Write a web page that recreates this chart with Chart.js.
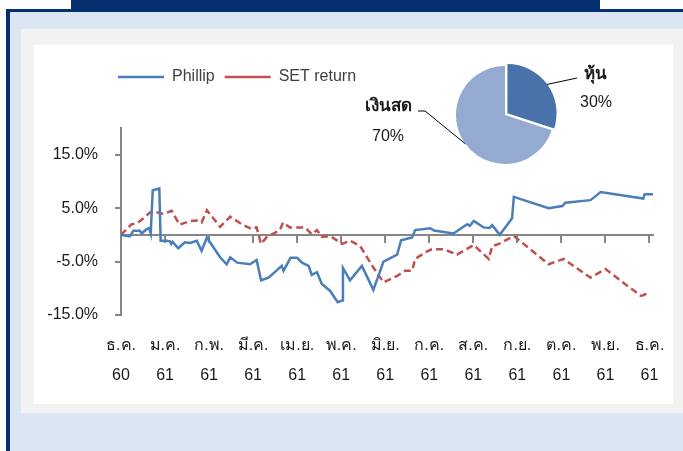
<!DOCTYPE html>
<html lang="th">
<head>
    <meta charset="UTF-8">
    <title>Phillip vs SET return</title>
    <script src="https://cdn.jsdelivr.net/npm/chart.js"></script>
    <style>
        body { margin: 0; background: #fff; width: 683px; height: 451px; overflow: hidden; position: relative; }
        .topbar { position: absolute; left: 71px; top: 0; width: 529px; height: 10px; background: #05306f; }
        .frame { position: absolute; left: 6px; top: 9px; width: 700px; height: 460px; background: #dce6f2;
                 border-left: 4px solid #05306f; border-top: 3px solid #05306f; }
        .panel { position: absolute; left: 21px; top: 29px; width: 670px; height: 384px; background: #f2f2f2; }
        .sheet { position: absolute; left: 34px; top: 45px; width: 639px; height: 359px; background: #fff; }
        #lineChart { position: absolute; left: 34px; top: 45px; }
        #pieChart { position: absolute; left: 350px; top: 55px; }
    </style>
</head>
<body>
    <div class="topbar"></div>
    <div class="frame"></div>
    <div class="panel"></div>
    <div class="sheet"></div>
    <canvas id="lineChart" width="639" height="359"></canvas>
    <canvas id="pieChart" width="290" height="115"></canvas>

    <script>
        // months since end of Dec 2560 (axis origin), cumulative return %
        const phillipMonths = [0, 0.2, 0.28, 0.43, 0.47, 0.58, 0.64, 0.675, 0.72, 0.87, 0.9, 1.04, 1.11, 1.14, 1.17,
            1.30, 1.45, 1.57, 1.72, 1.83, 1.95, 2.25, 2.40, 2.48, 2.64, 2.93, 3.08, 3.18, 3.35, 3.65, 3.69, 3.85,
            4.0, 4.11, 4.26, 4.33, 4.45, 4.56, 4.75, 4.92, 5.02, 5.04, 5.20, 5.47, 5.73, 5.96, 6.27, 6.36, 6.61,
            6.68, 7.02, 7.11, 7.40, 7.55, 7.86, 7.92, 8.01, 8.23, 8.37, 8.43, 8.60, 8.88, 8.92, 9.71, 10.02, 10.09,
            10.66, 10.77, 10.89, 11.86, 11.89, 12.08];
        const phillipReturns = [0, -0.3, 0.75, 0.75, 0.25, 1.06, 1.25, 0.25, 8.3, 8.7, -1.1, -1.1, -1.2, -1.7, -1.3,
            -2.5, -1.4, -1.5, -1.1, -3.0, -0.5, -4.2, -5.5, -4.2, -5.2, -5.5, -4.7, -8.5, -8.0, -5.8, -6.7, -4.3,
            -4.3, -5.2, -5.8, -7.5, -7.0, -9.2, -10.5, -12.6, -12.3, -6.2, -8.5, -5.8, -10.3, -5.0, -3.7, -1.0, -0.5,
            0.9, 1.25, 0.8, 0.45, 0.25, 2.0, 1.7, 2.6, 1.4, 1.3, 1.8, 0, 3.1, 7.1, 5.0, 5.4, 6.0,
            6.5, 7.2, 8.0, 6.8, 7.6, 7.6];

        const setMonths = [0, 0.24, 0.36, 0.51, 0.66, 0.85, 0.96, 1.15, 1.33, 1.57, 1.72, 1.83, 1.95, 2.25, 2.48,
            2.78, 2.97, 3.08, 3.18, 3.31, 3.61, 3.68, 3.83, 4.18, 4.33, 4.45, 4.56, 4.75, 5.02, 5.20, 5.43, 5.73,
            5.96, 6.27, 6.45, 6.61, 6.68, 6.95, 7.06, 7.33, 7.63, 8.01, 8.35, 8.43, 8.58, 8.92, 9.71, 10.05, 10.66,
            11.0, 11.80, 11.86, 11.98];
        const setReturns = [0, 2.0, 2.1, 3.1, 4.2, 4.2, 3.9, 4.5, 1.9, 2.6, 2.7, 2.3, 4.6, 1.5, 3.4,
            1.8, 1.1, 1.4, -1.7, -0.4, 0.9, 2.3, 1.4, 1.4, 0.1, 0.9, -0.4, -0.2, -1.7, -1.1, -2.1, -6.1,
            -8.9, -7.7, -6.7, -6.7, -4.5, -3.1, -2.7, -2.7, -3.7, -1.9, -4.5, -2.1, -1.7, -0.2, -5.5, -4.5, -8.0,
            -6.4, -11.4, -11.3, -10.8];

        const monthLabels = ['ธ.ค.', 'ม.ค.', 'ก.พ.', 'มี.ค.', 'เม.ย.', 'พ.ค.', 'มิ.ย.', 'ก.ค.', 'ส.ค.', 'ก.ย.', 'ต.ค.', 'พ.ย.', 'ธ.ค.'];
        const yearLabels = ['60', '61', '61', '61', '61', '61', '61', '61', '61', '61', '61', '61', '61'];
        const yTicks = [-15, -5, 5, 15];

        const allocLabels = ['หุ้น', 'เงินสด'];
        const allocValues = [30, 70];

        const FONT = "'Liberation Sans', Arial, sans-serif";
        const AXIS = '#868686';
        const monthTicks = monthLabels.map((_, i) => ({ value: i }));

        // legend sits above the plot, starting near the y axis
        const legendPlacer = {
            id: 'legendPlacer',
            beforeInit(chart) {
                const fit = chart.legend.fit;
                chart.legend.fit = function () {
                    fit.bind(chart.legend)();
                    this.height = 69;
                };
            },
            afterLayout(chart) {
                chart.legend.left = 74;
            }
        };

        const noPad = s => { s.paddingLeft = 0; s.paddingRight = 0; s.paddingTop = 0; s.paddingBottom = 0; };

        new Chart(document.getElementById('lineChart'), {
            type: 'line',
            data: {
                datasets: [{
                    label: 'Phillip',
                    data: phillipMonths.map((m, i) => ({ x: m, y: phillipReturns[i] })),
                    borderColor: '#4a7ebb',
                    borderWidth: 2.5,
                    pointRadius: 0,
                    tension: 0
                }, {
                    label: 'SET return',
                    data: setMonths.map((m, i) => ({ x: m, y: setReturns[i] })),
                    borderColor: '#c0504d',
                    borderWidth: 2.5,
                    borderDash: [7, 4],
                    pointRadius: 0,
                    tension: 0
                }]
            },
            options: {
                responsive: false,
                animation: false,
                events: [],
                layout: { padding: { left: 0, right: 20, top: 14, bottom: 0 } },
                plugins: {
                    tooltip: { enabled: false },
                    legend: {
                        position: 'top',
                        align: 'start',
                        labels: {
                            usePointStyle: true,
                            pointStyle: 'line',
                            pointStyleWidth: 46,
                            boxHeight: 3,
                            padding: 10,
                            color: '#404040',
                            font: { family: FONT, size: 16 }
                        }
                    }
                },
                scales: {
                    x: {
                        type: 'linear',
                        position: { y: 0 },
                        min: 0,
                        max: 12.08,
                        afterBuildTicks: s => { s.ticks = monthTicks.map(t => ({ ...t })); },
                        afterFit: noPad,
                        ticks: { display: false },
                        grid: { drawOnChartArea: false, color: AXIS, lineWidth: 2, tickLength: 7 },
                        border: { color: AXIS, width: 2 }
                    },
                    x2: {
                        type: 'linear',
                        position: 'bottom',
                        min: 0,
                        max: 12.08,
                        afterBuildTicks: s => { s.ticks = monthTicks.map(t => ({ ...t })); },
                        afterFit: s => { noPad(s); s.height = 89; },
                        grid: { display: false },
                        border: { display: false },
                        ticks: {
                            padding: 8,
                            maxRotation: 0,
                            autoSkip: false,
                            color: '#1a1a1a',
                            font: { family: FONT, size: 16, lineHeight: 1.875 },
                            callback: v => [monthLabels[v], yearLabels[v]]
                        }
                    },
                    y: {
                        min: -15,
                        max: 20,
                        afterBuildTicks: s => { s.ticks = yTicks.map(v => ({ value: v })); },
                        afterFit: s => { noPad(s); s.width = 87; },
                        grid: { drawOnChartArea: false, color: AXIS, lineWidth: 2, tickLength: 6 },
                        border: { color: AXIS, width: 2 },
                        ticks: {
                            padding: 17,
                            color: '#1a1a1a',
                            font: { family: FONT, size: 16 },
                            callback: v => v.toFixed(1) + '%'
                        }
                    }
                }
            },
            plugins: [legendPlacer]
        });

        // pie labels with leader lines, placed relative to each slice
        const pieLabels = {
            id: 'pieLabels',
            afterDatasetsDraw(chart) {
                const arcs = chart.getDatasetMeta(0).data;
                const ctx = chart.ctx;
                const total = allocValues.reduce((a, b) => a + b, 0);
                const spots = [
                    { line: [[72, -37]], name: [79, -41], value: [91, -12], align: 'left', push: 3 },
                    { line: [[-80, -4], [-87, -4]], name: [-117, -9], value: [-117, 22], align: 'center', push: 0 }
                ];
                ctx.save();
                arcs.forEach((arc, i) => {
                    const mid = (arc.startAngle + arc.endAngle) / 2;
                    const r = arc.outerRadius + spots[i].push;
                    const cx = arc.x, cy = arc.y;
                    ctx.beginPath();
                    ctx.strokeStyle = '#000';
                    ctx.lineWidth = 1;
                    ctx.moveTo(cx + Math.cos(mid) * r, cy + Math.sin(mid) * r);
                    spots[i].line.forEach(p => ctx.lineTo(cx + p[0], cy + p[1]));
                    ctx.stroke();

                    ctx.fillStyle = '#1a1a1a';
                    ctx.textBaseline = 'middle';
                    ctx.textAlign = spots[i].align;
                    ctx.font = 'bold 17px ' + FONT;
                    ctx.fillText(allocLabels[i], cx + spots[i].name[0], cy + spots[i].name[1]);
                    ctx.textAlign = 'center';
                    ctx.font = '16px ' + FONT;
                    ctx.fillText(Math.round(allocValues[i] / total * 100) + '%', cx + spots[i].value[0], cy + spots[i].value[1]);
                });
                ctx.restore();
            }
        };

        new Chart(document.getElementById('pieChart'), {
            type: 'pie',
            data: {
                labels: allocLabels,
                datasets: [{
                    data: allocValues,
                    backgroundColor: ['#4872a9', '#95aad1'],
                    borderWidth: 0,
                    offset: [12, 0],
                    radius: 49
                }]
            },
            options: {
                responsive: false,
                animation: false,
                events: [],
                layout: { padding: { left: 100, right: 80, top: 5, bottom: 0 } },
                plugins: { legend: { display: false }, tooltip: { enabled: false } }
            },
            plugins: [pieLabels]
        });
    </script>
</body>
</html>
